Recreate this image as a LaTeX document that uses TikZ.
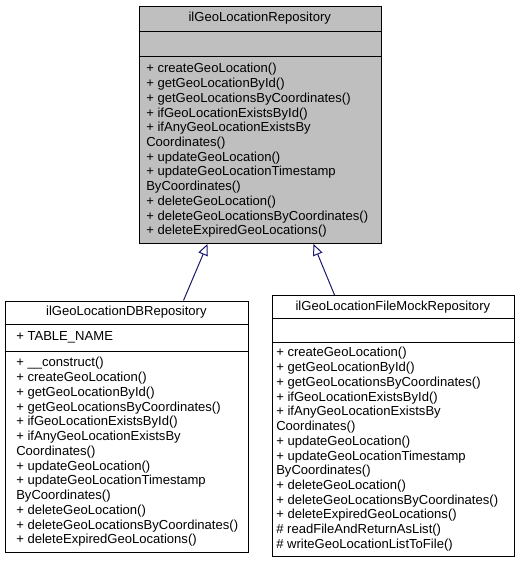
\documentclass[tikz,border=0pt]{standalone}
\usepackage{fontspec}
\setmainfont{Liberation Sans}
\usepackage{xcolor}
\usepackage{tikz}
\usetikzlibrary{positioning, arrows.meta}
\definecolor{ClassGray}{RGB}{191,191,191}
\definecolor{EdgeBlue}{RGB}{25,25,112}
\definecolor{BoxInk}{RGB}{0,0,0}
\newcommand{\repomethods}{%
  + createGeoLocation()\\
  + getGeoLocationById()\\
  + getGeoLocationsByCoordinates()\\
  + ifGeoLocationExistsById()\\
  + ifAnyGeoLocationExistsBy\\
  Coordinates()\\
  + updateGeoLocation()\\
  + updateGeoLocationTimestamp\\
  ByCoordinates()\\
  + deleteGeoLocation()\\
  + deleteGeoLocationsByCoordinates()\\
  + deleteExpiredGeoLocations()}

\begin{document}
\begin{tikzpicture}[x=0.75pt, y=-0.75pt,
    classbox/.style={draw=BoxInk, line width=0.75pt, inner sep=0pt, anchor=north west},
    boxtitle/.style={inner sep=0pt, font={\fontsize{9.8pt}{10pt}\selectfont}},
    members/.style={inner sep=0pt, anchor=west, align=left, font={\fontsize{9.8pt}{11.05pt}\selectfont}},
    inherit/.style={draw=EdgeBlue, line width=0.75pt, -{Triangle[open, fill=white, length=8.5pt, width=7.5pt]}}]
  \useasboundingbox (0,0) rectangle (520,565);
  \node[classbox, fill=ClassGray, minimum width=181.9pt, minimum height=178.1pt] (repo) at (138.5,5.5) {};
  \node[classbox, fill=white, minimum width=182.85pt, minimum height=188.25pt] (dbrepo) at (4.5,300.5) {};
  \node[classbox, fill=white, minimum width=181.7pt, minimum height=195.75pt] (mockrepo) at (271.7,295) {};
  \foreach \n/\a/\b in {repo/31.7/56.7, dbrepo/324.5/351, mockrepo/318.5/342.5} {
    \draw[draw=BoxInk, line width=0.75pt] (\n.west |- 0,\a) -- (\n.east |- 0,\a);
    \draw[draw=BoxInk, line width=0.75pt] (\n.west |- 0,\b) -- (\n.east |- 0,\b);
  }
  \node[boxtitle] (repotitle) at (259.75,18.6) {ilGeoLocationRepository};
  \node[boxtitle] (dbtitle) at (126.4,312.5) {ilGeoLocationDBRepository};
  \node[boxtitle] (mocktitle) at (392.85,306.75) {ilGeoLocationFileMockRepository};
  \node[boxtitle, anchor=west] (dbattr) at (16,337.75) {+ TABLE\_NAME};
  \node[members] (repoops) at (146,150.5) {\repomethods};
  \node[members] (dbops) at (16,452) {+ \_\_construct()\\ \repomethods};
  \node[members] (mockops) at (276,449.3) {\repomethods\\
    \# readFileAndReturnAsList()\\
    \# writeGeoLocationListToFile()};
  \draw[inherit] ([xshift=42.45pt]dbrepo.north) -- ([xshift=-39.6pt]repo.south);
  \draw[inherit] ([xshift=-44.1pt]mockrepo.north) -- ([xshift=39.9pt]repo.south);
\end{tikzpicture}
\end{document}
